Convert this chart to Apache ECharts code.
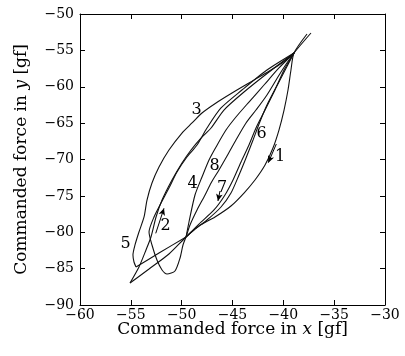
<!DOCTYPE html>
<html><head><meta charset="utf-8">
<script src="https://cdn.jsdelivr.net/npm/echarts/dist/echarts.min.js"></script>
<style>html,body{margin:0;padding:0;background:#fff}#c{width:405px;height:356px}</style>
</head><body><div id="c"></div>
<script>
// Axis ticks
const xTicks = [-60, -55, -50, -45, -40, -35, -30];
const yTicks = [-90, -85, -80, -75, -70, -65, -60, -55, -50];

// Trajectory segments (commanded force x, y in gf)
const seg1 = [[-37.67,-52.75],[-38.95,-55.36],[-39.25,-57.70],[-39.54,-60.45],[-39.93,-63.20],[-40.43,-65.95],[-41.02,-68.42],[-41.80,-70.76],[-42.79,-72.82],[-43.87,-74.61],[-45.15,-76.39],[-46.72,-77.90],[-48.30,-79.14],[-49.57,-80.65],[-51.25,-82.99],[-53.21,-85.05],[-55.08,-86.98]];
const seg2 = [[-55.08,-86.98],[-54.20,-84.78],[-53.51,-82.44],[-53.02,-80.65],[-52.52,-77.90],[-51.93,-75.57],[-50.95,-72.82],[-49.97,-70.48],[-49.08,-68.69],[-48.10,-67.05],[-47.11,-65.67],[-45.84,-63.20],[-43.87,-60.72],[-41.41,-57.97],[-38.95,-55.36]];
const seg3 = [[-38.95,-55.36],[-40.13,-56.74],[-41.71,-58.11],[-43.38,-59.48],[-45.05,-60.86],[-46.62,-62.23],[-48.00,-63.61],[-48.98,-64.98],[-49.97,-66.36],[-51.25,-68.69],[-52.23,-71.03],[-52.92,-73.23],[-53.41,-75.57],[-53.70,-77.90],[-54.20,-79.97],[-54.59,-81.75],[-54.79,-83.13],[-54.69,-84.09],[-54.49,-84.78]];
const seg3b = [[-54.49,-84.78],[-52.23,-82.85],[-49.57,-80.65]];
const seg4 = [[-49.57,-80.65],[-49.28,-78.59],[-48.69,-74.88],[-48.00,-72.41],[-47.31,-70.07],[-46.62,-68.28],[-45.64,-65.95],[-44.66,-64.16],[-43.38,-62.10],[-41.90,-59.76],[-40.43,-57.42],[-38.95,-55.36]];
const seg5 = [[-38.95,-55.36],[-41.61,-57.70],[-44.07,-60.45],[-46.13,-62.92],[-47.51,-65.67],[-48.49,-68.01],[-49.48,-69.66],[-50.46,-71.72],[-51.25,-73.92],[-52.03,-75.98],[-52.72,-77.90],[-53.21,-79.97],[-52.92,-81.75],[-52.43,-83.82],[-51.93,-85.19],[-51.44,-85.74],[-50.66,-85.33],[-50.16,-83.54],[-49.87,-81.75],[-49.57,-80.65]];
const seg6 = [[-49.57,-80.65],[-48.79,-79.69],[-47.51,-78.32],[-46.13,-76.53],[-45.15,-74.61],[-44.36,-72.13],[-43.67,-69.79],[-42.98,-67.32],[-42.39,-65.12],[-41.61,-62.51],[-40.33,-59.07],[-38.95,-55.36]];
const seg7 = [[-38.95,-55.36],[-39.93,-57.70],[-40.92,-60.72],[-41.90,-63.47],[-42.69,-65.67],[-43.38,-68.01],[-44.16,-70.34],[-44.95,-72.82],[-45.74,-74.88],[-46.82,-76.94],[-48.30,-78.87],[-49.57,-80.65]];
const seg8 = [[-49.57,-80.65],[-49.18,-79.00],[-48.49,-76.94],[-47.70,-74.88],[-47.11,-73.23],[-46.33,-71.44],[-45.54,-69.52],[-44.66,-67.32],[-43.67,-64.98],[-42.69,-63.20],[-41.61,-61.13],[-40.23,-57.97],[-38.95,-55.36],[-37.28,-52.61]];

// Segment number labels and their positions
const labelText = ['1', '2', '3', '4', '5', '6', '7', '8'];
const labelPos = [[-40.33,-69.66],[-51.57,-79.14],[-48.54,-63.20],[-48.93,-73.30],[-55.51,-81.62],[-42.15,-66.43],[-46.03,-73.92],[-46.75,-70.85]];

// Direction arrows: [start, end]
const arrows = [
  [[-40.69,-67.87],[-41.48,-70.44]],
  [[-52.55,-80.15],[-51.74,-76.71]],
  [[-46.23,-74.33],[-46.43,-75.70]]
];

const FONT = 'DejaVu Serif';
const minus = v => String(v).replace('-', '\u2212');
const segs = [seg1, seg2, seg3, seg3b, seg4, seg5, seg6, seg7, seg8];

const chart = echarts.init(document.getElementById('c'), null, {renderer: 'canvas'});
const axisCommon = {
  type: 'value',
  splitLine: {show: false},
  axisLine: {show: true, onZero: false, lineStyle: {color: '#000', width: 1}},
  axisTick: {show: true, inside: true, length: 5, lineStyle: {color: '#000', width: 1}}
};
chart.setOption({
  animation: false,
  backgroundColor: '#fff',
  grid: {left: 80, right: 20, top: 14, bottom: 51},
  xAxis: [
    Object.assign({}, axisCommon, {
      min: xTicks[0], max: xTicks[xTicks.length - 1], interval: xTicks[1] - xTicks[0],
      position: 'bottom',
      axisLabel: {formatter: minus, fontFamily: FONT, fontSize: 14, color: '#000', margin: 3},
      name: 'Commanded force in {i|x} [gf]', nameLocation: 'middle', nameGap: 16,
      nameMoveOverlap: false,
      nameTextStyle: {fontFamily: FONT, fontSize: 17, color: '#000',
        rich: {i: {fontFamily: FONT, fontSize: 17, fontStyle: 'italic', color: '#000'}}}
    }),
    Object.assign({}, axisCommon, {
      min: xTicks[0], max: xTicks[xTicks.length - 1], interval: xTicks[1] - xTicks[0],
      position: 'top', axisLabel: {show: false}
    })
  ],
  yAxis: [
    Object.assign({}, axisCommon, {
      min: yTicks[0], max: yTicks[yTicks.length - 1], interval: yTicks[1] - yTicks[0],
      position: 'left',
      axisLabel: {formatter: minus, fontFamily: FONT, fontSize: 14, color: '#000', margin: 6},
      name: 'Commanded force in {i|y} [gf]', nameLocation: 'middle', nameGap: 50,
      nameMoveOverlap: false,
      nameTextStyle: {fontFamily: FONT, fontSize: 17, color: '#000',
        rich: {i: {fontFamily: FONT, fontSize: 17, fontStyle: 'italic', color: '#000'}}}
    }),
    Object.assign({}, axisCommon, {
      min: yTicks[0], max: yTicks[yTicks.length - 1], interval: yTicks[1] - yTicks[0],
      position: 'right', axisLabel: {show: false}
    })
  ],
  series: segs.map((s, i) => ({
    name: 'segment ' + (i + 1),
    type: 'line',
    xAxisIndex: 0, yAxisIndex: 0,
    data: s,
    showSymbol: false,
    smooth: 0.25,
    lineStyle: {color: '#111', width: 1.1},
    silent: true
  })).concat([
    {
      name: 'labels', type: 'scatter', xAxisIndex: 0, yAxisIndex: 0,
      data: labelPos.map((p, i) => ({value: p, name: labelText[i]})),
      symbolSize: 1,
      itemStyle: {color: '#000', opacity: 0},
      label: {show: true, position: 'inside', formatter: p => p.name,
        fontFamily: FONT, fontSize: 16, color: '#000', opacity: 1,
        textBorderWidth: 0, align: 'center', verticalAlign: 'middle'},
      silent: true
    },
    {
      name: 'arrows', type: 'line', xAxisIndex: 0, yAxisIndex: 0, data: [],
      markLine: {
        silent: true, symbol: ['none', 'arrow'], symbolSize: [5, 7],
        label: {show: false},
        lineStyle: {color: '#000', width: 1, type: 'solid'},
        data: arrows.map(a => [{coord: a[0]}, {coord: a[1]}])
      }
    }
  ])
});
</script></body></html>
